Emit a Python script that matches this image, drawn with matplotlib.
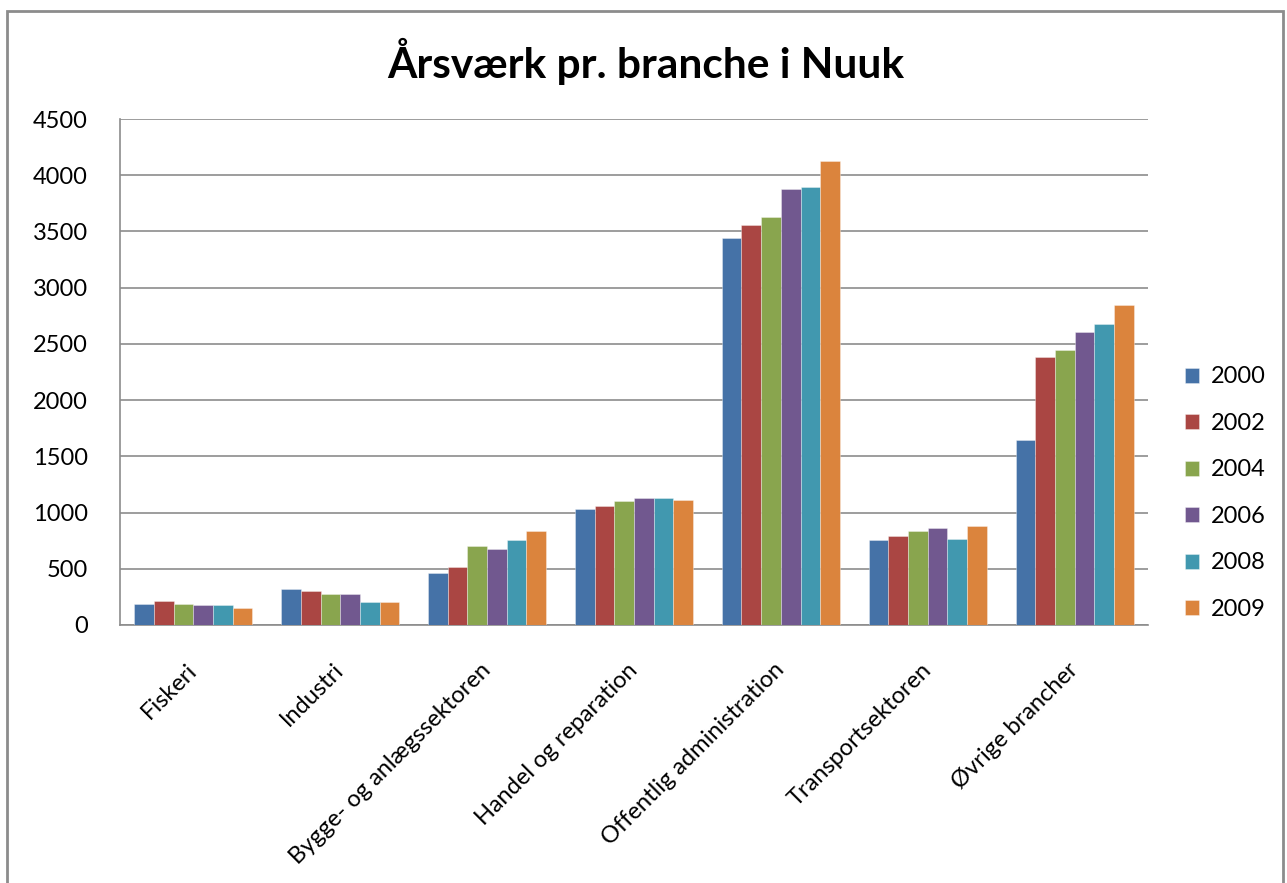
import numpy as np
import matplotlib
matplotlib.use('Agg')
import matplotlib.pyplot as plt
from matplotlib.patches import Rectangle

plt.rcParams['font.family'] = ['Lato', 'DejaVu Sans']

categories = ['Fiskeri', 'Industri', 'Bygge- og anlægssektoren', 'Handel og reparation',
              'Offentlig administration', 'Transportsektoren', 'Øvrige brancher']
years = ['2000', '2002', '2004', '2006', '2008', '2009']
v2000 = [190, 323, 466, 1030, 3444, 757, 1644]
v2002 = [213, 300, 519, 1062, 3554, 789, 2382]
v2004 = [190, 279, 706, 1106, 3631, 834, 2445]
v2006 = [178, 279, 673, 1128, 3874, 866, 2602]
v2008 = [178, 202, 760, 1128, 3895, 768, 2679]
v2009 = [148, 202, 837, 1115, 4123, 878, 2845]
series = [v2000, v2002, v2004, v2006, v2008, v2009]
colors = ['#4572A7', '#AA4643', '#89A54E', '#71588F', '#4198AF', '#DB843D']

fig = plt.figure(figsize=(12.87, 8.83), dpi=100)
ax = fig.add_axes([0.0932, 0.2922, 0.7988, 0.573])

# ramme rundt om hele diagrammet
fig.patches.append(Rectangle((7 / 1287, -0.05), (1283 - 7) / 1287, 1.05 - 11 / 883,
                             transform=fig.transFigure, fill=False,
                             edgecolor='#8c8c8c', lw=2))

x = np.arange(len(categories))
w = 0.134
for i, (vals, c, yr) in enumerate(zip(series, colors, years)):
    ax.bar(x + (i - 2.5) * w, vals, w, color=c, label=yr,
           edgecolor=(1, 1, 1, 0.4), linewidth=0.6, zorder=3)

ax.set_xlim(-0.5, len(categories) - 0.5)
ax.set_ylim(0, 4500)
ax.set_yticks(np.arange(0, 4501, 500))
ax.yaxis.grid(True, color='#8c8c8c', lw=1.2, zorder=0)
ax.set_axisbelow(True)
for s in ['top', 'right']:
    ax.spines[s].set_visible(False)
for s in ['left', 'bottom']:
    ax.spines[s].set_color('#8c8c8c')
    ax.spines[s].set_linewidth(1.2)
ax.tick_params(axis='both', length=0, labelsize=17)
ax.tick_params(axis='y', pad=23)
ax.set_xticks(x)
ax.set_xticklabels(categories, rotation=45, ha='right', va='center',
                   rotation_mode='anchor')
ax.tick_params(axis='x', pad=30)

fig.suptitle('Årsværk pr. branche i Nuuk', x=0.502, y=0.957, fontsize=30.5,
             fontweight='bold')

fig.legend(loc='upper left', bbox_to_anchor=(0.921, 0.585), frameon=False,
           fontsize=17, handlelength=0.6, handleheight=0.6, handletextpad=0.5,
           labelspacing=1.08, borderaxespad=0, borderpad=0)

fig.savefig('out.png', dpi=100)
